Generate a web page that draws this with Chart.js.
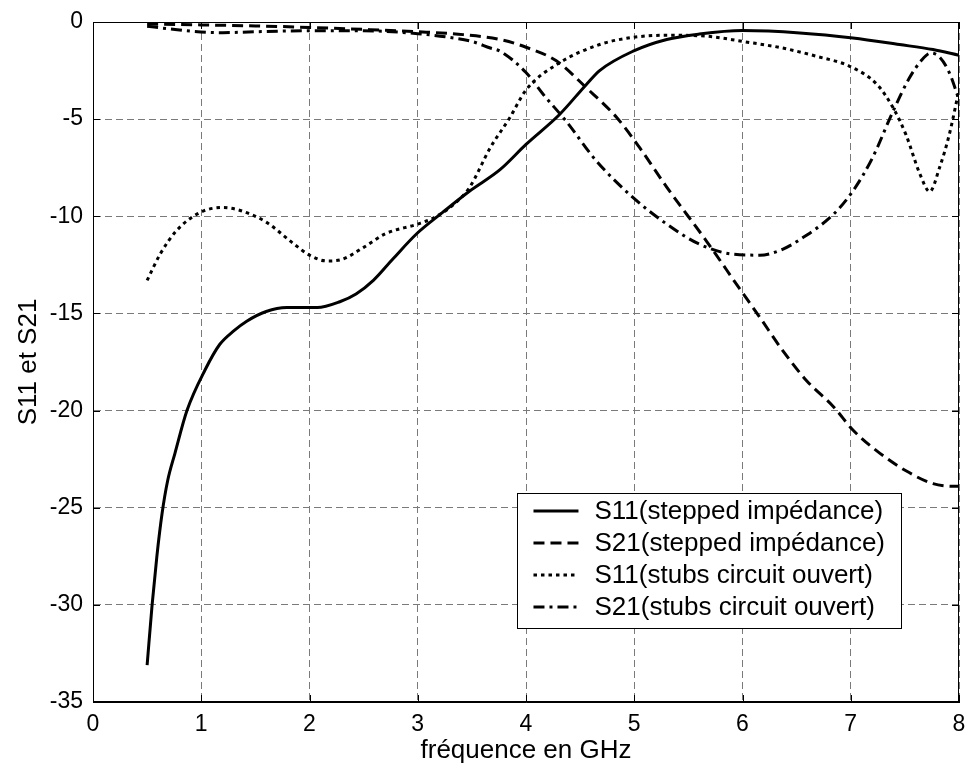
<!DOCTYPE html>
<html>
<head>
<meta charset="utf-8">
<script src="https://cdn.jsdelivr.net/npm/chart.js@4.4.1/dist/chart.umd.min.js"></script>
<style>
  html, body { margin: 0; padding: 0; background: #fff; }
  #graficoS { display: block; }
</style>
</head>
<body>
<canvas id="graficoS" width="970" height="774"></canvas>
<script>
// Valeurs (fréquence en GHz, S en dB)
const freqS11Stepped = [0.5, 0.546, 0.59, 0.638, 0.69, 0.757, 0.868, 1.036, 1.17, 1.3, 1.42, 1.6, 1.79, 2.07, 2.28, 2.43, 2.59, 2.77, 2.99, 3.23, 3.48, 3.76, 4.0, 4.31, 4.56, 4.68, 4.99, 5.3, 5.6, 6.0, 6.53, 7.02, 7.45, 7.76, 8.0];
const s11Stepped = [-33.1, -30, -27.5, -25.3, -23.6, -22.2, -20, -17.9, -16.6, -15.9, -15.4, -14.9, -14.7, -14.7, -14.4, -14.0, -13.3, -12.2, -10.9, -9.8, -8.7, -7.6, -6.3, -4.76, -3.2, -2.5, -1.5, -0.9, -0.62, -0.44, -0.56, -0.82, -1.16, -1.42, -1.71];

const freqS21Stepped = [0.5, 1.0, 1.5, 2.0, 2.5, 3.0, 3.42, 3.76, 4.0, 4.28, 4.56, 4.84, 5.05, 5.3, 5.67, 5.97, 6.16, 6.37, 6.59, 6.84, 7.02, 7.27, 7.51, 7.76, 7.97, 8.0];
const s21Stepped = [-0.1, -0.15, -0.2, -0.28, -0.38, -0.5, -0.65, -0.9, -1.3, -2.0, -3.4, -4.93, -6.47, -8.5, -11.3, -13.7, -15.2, -16.9, -18.45, -19.8, -21.0, -22.2, -23.1, -23.76, -23.9, -23.9];

const freqS11Stubs = [0.5, 0.62, 0.77, 0.99, 1.2, 1.36, 1.6, 1.85, 2.0, 2.16, 2.28, 2.5, 2.7, 3.0, 3.14, 3.33, 3.48, 3.67, 3.85, 4.0, 4.31, 4.68, 4.99, 5.3, 5.67, 6.0, 6.37, 6.68, 6.99, 7.24, 7.39, 7.51, 7.64, 7.73, 7.82, 7.91, 8.0];
const s11Stubs = [-13.3, -11.95, -10.75, -9.8, -9.55, -9.7, -10.3, -11.4, -12.0, -12.3, -12.25, -11.6, -10.9, -10.4, -10.1, -9.4, -8.5, -6.47, -4.93, -3.5, -2.1, -1.16, -0.79, -0.68, -0.73, -1.0, -1.34, -1.76, -2.28, -3.2, -4.4, -5.8, -7.84, -8.73, -7.5, -5.8, -3.5];

const freqS21Stubs = [0.5, 0.7, 0.92, 1.2, 1.5, 2.0, 2.5, 3.0, 3.3, 3.5, 3.67, 3.76, 4.0, 4.16, 4.37, 4.65, 4.99, 5.3, 5.6, 5.91, 6.16, 6.37, 6.53, 6.84, 7.02, 7.2, 7.39, 7.54, 7.65, 7.74, 7.82, 7.91, 8.0];
const s21Stubs = [-0.22, -0.35, -0.48, -0.55, -0.5, -0.45, -0.45, -0.6, -0.8, -1.0, -1.34, -1.5, -2.6, -3.73, -5.1, -7.15, -9.04, -10.4, -11.43, -11.95, -12.0, -11.7, -11.2, -9.9, -8.7, -7.0, -4.6, -2.9, -2.0, -1.6, -1.8, -2.6, -4.0];

const nomsSeries = ["S11(stepped impédance)", "S21(stepped impédance)", "S11(stubs circuit ouvert)", "S21(stubs circuit ouvert)"];
const ticksX = [0, 1, 2, 3, 4, 5, 6, 7, 8];
const ticksY = [0, -5, -10, -15, -20, -25, -30, -35];

const police = "'Liberation Sans', Arial, sans-serif";

function pontos(xs, ys) {
    return xs.map((x, i) => ({ x: x, y: ys[i] }));
}

const estilos = [
    { dash: [] },
    { dash: [11, 6] },
    { dash: [3.5, 4] },
    { dash: [11, 5, 3, 5] },
];

const series = [
    pontos(freqS11Stepped, s11Stepped),
    pontos(freqS21Stepped, s21Stepped),
    pontos(freqS11Stubs, s11Stubs),
    pontos(freqS21Stubs, s21Stubs),
];

// cadre, graduations intérieures et légende à la MATLAB
const cadrePlugin = {
    id: "cadre",
    afterDraw(chart) {
        const ctx = chart.ctx;
        const a = chart.chartArea;
        const sx = chart.scales.x;
        const sy = chart.scales.y;
        ctx.save();
        ctx.strokeStyle = "#000";
        ctx.lineWidth = 1;
        ctx.setLineDash([]);
        ctx.strokeRect(a.left + 0.5, a.top + 0.5, a.right - a.left - 1, a.bottom - a.top - 1);
        ctx.beginPath();
        ticksX.forEach(v => {
            const px = Math.round(sx.getPixelForValue(v)) + 0.5;
            ctx.moveTo(px, a.bottom); ctx.lineTo(px, a.bottom - 7);
            ctx.moveTo(px, a.top); ctx.lineTo(px, a.top + 7);
        });
        ticksY.forEach(v => {
            const py = Math.round(sy.getPixelForValue(v)) + 0.5;
            ctx.moveTo(a.left, py); ctx.lineTo(a.left + 7, py);
            ctx.moveTo(a.right, py); ctx.lineTo(a.right - 7, py);
        });
        ctx.stroke();

        // légende
        ctx.font = "26px " + police;
        const largTexte = Math.max(...nomsSeries.map(n => ctx.measureText(n).width));
        const hLigne = 32;
        const larg = 16 + 45 + 16 + largTexte + 16;
        const haut = hLigne * nomsSeries.length + 7;
        const bx = a.right - 58 - larg;
        const by = a.bottom - 74 - haut;
        ctx.fillStyle = "#fff";
        ctx.fillRect(bx, by, larg, haut);
        ctx.strokeRect(Math.round(bx) + 0.5, Math.round(by) + 0.5, Math.round(larg), Math.round(haut));
        nomsSeries.forEach((nom, i) => {
            const cy = by + 18 + i * hLigne;
            ctx.save();
            ctx.lineWidth = 3;
            ctx.setLineDash(estilos[i].dash);
            ctx.beginPath();
            ctx.moveTo(bx + 16, cy);
            ctx.lineTo(bx + 61, cy);
            ctx.stroke();
            ctx.restore();
            ctx.fillStyle = "#000";
            ctx.textBaseline = "middle";
            ctx.textAlign = "left";
            ctx.fillText(nom, bx + 77, cy + 1);
        });
        ctx.restore();
    }
};

const ctx = document.getElementById("graficoS").getContext("2d");

new Chart(ctx, {
    type: "line",
    data: {
        datasets: series.map((pts, i) => ({
            label: nomsSeries[i],
            data: pts,
            borderColor: "#000",
            borderWidth: 3,
            borderDash: estilos[i].dash,
            borderCapStyle: "butt",
            pointRadius: 0,
            fill: false,
            cubicInterpolationMode: "monotone",
        })),
    },
    options: {
        responsive: false,
        animation: false,
        devicePixelRatio: 1,
        layout: { padding: { top: 22, right: 11, left: 0, bottom: 0 } },
        plugins: {
            legend: { display: false },
            tooltip: { enabled: false },
        },
        scales: {
            x: {
                type: "linear",
                min: 0,
                max: 8,
                afterBuildTicks: s => { s.ticks = ticksX.map(v => ({ value: v })); },
                afterFit: s => { s.height = 72; s.paddingLeft = 0; s.paddingRight = 0; },
                ticks: { color: "#000", font: { family: police, size: 23 }, padding: 9, maxRotation: 0 },
                grid: { color: "#7a7a7a", lineWidth: 1, drawTicks: false },
                border: { display: true, color: "#000", width: 1, dash: [7, 4] },
                title: { display: true, text: "fréquence en GHz", color: "#000", font: { family: police, size: 26 }, padding: { top: 0, bottom: 8 } },
            },
            y: {
                type: "linear",
                min: -35,
                max: 0,
                afterBuildTicks: s => { s.ticks = ticksY.map(v => ({ value: v })); },
                afterFit: s => { s.width = 93; s.paddingTop = 0; s.paddingBottom = 0; },
                ticks: { color: "#000", font: { family: police, size: 23 }, padding: 10 },
                grid: { color: "#7a7a7a", lineWidth: 1, drawTicks: false },
                border: { display: true, color: "#000", width: 1, dash: [7, 4] },
                title: { display: true, text: "S11 et S21", color: "#000", font: { family: police, size: 26 }, padding: { top: 13, bottom: 0 } },
            },
        },
    },
    plugins: [cadrePlugin],
});
</script>
</body>
</html>
